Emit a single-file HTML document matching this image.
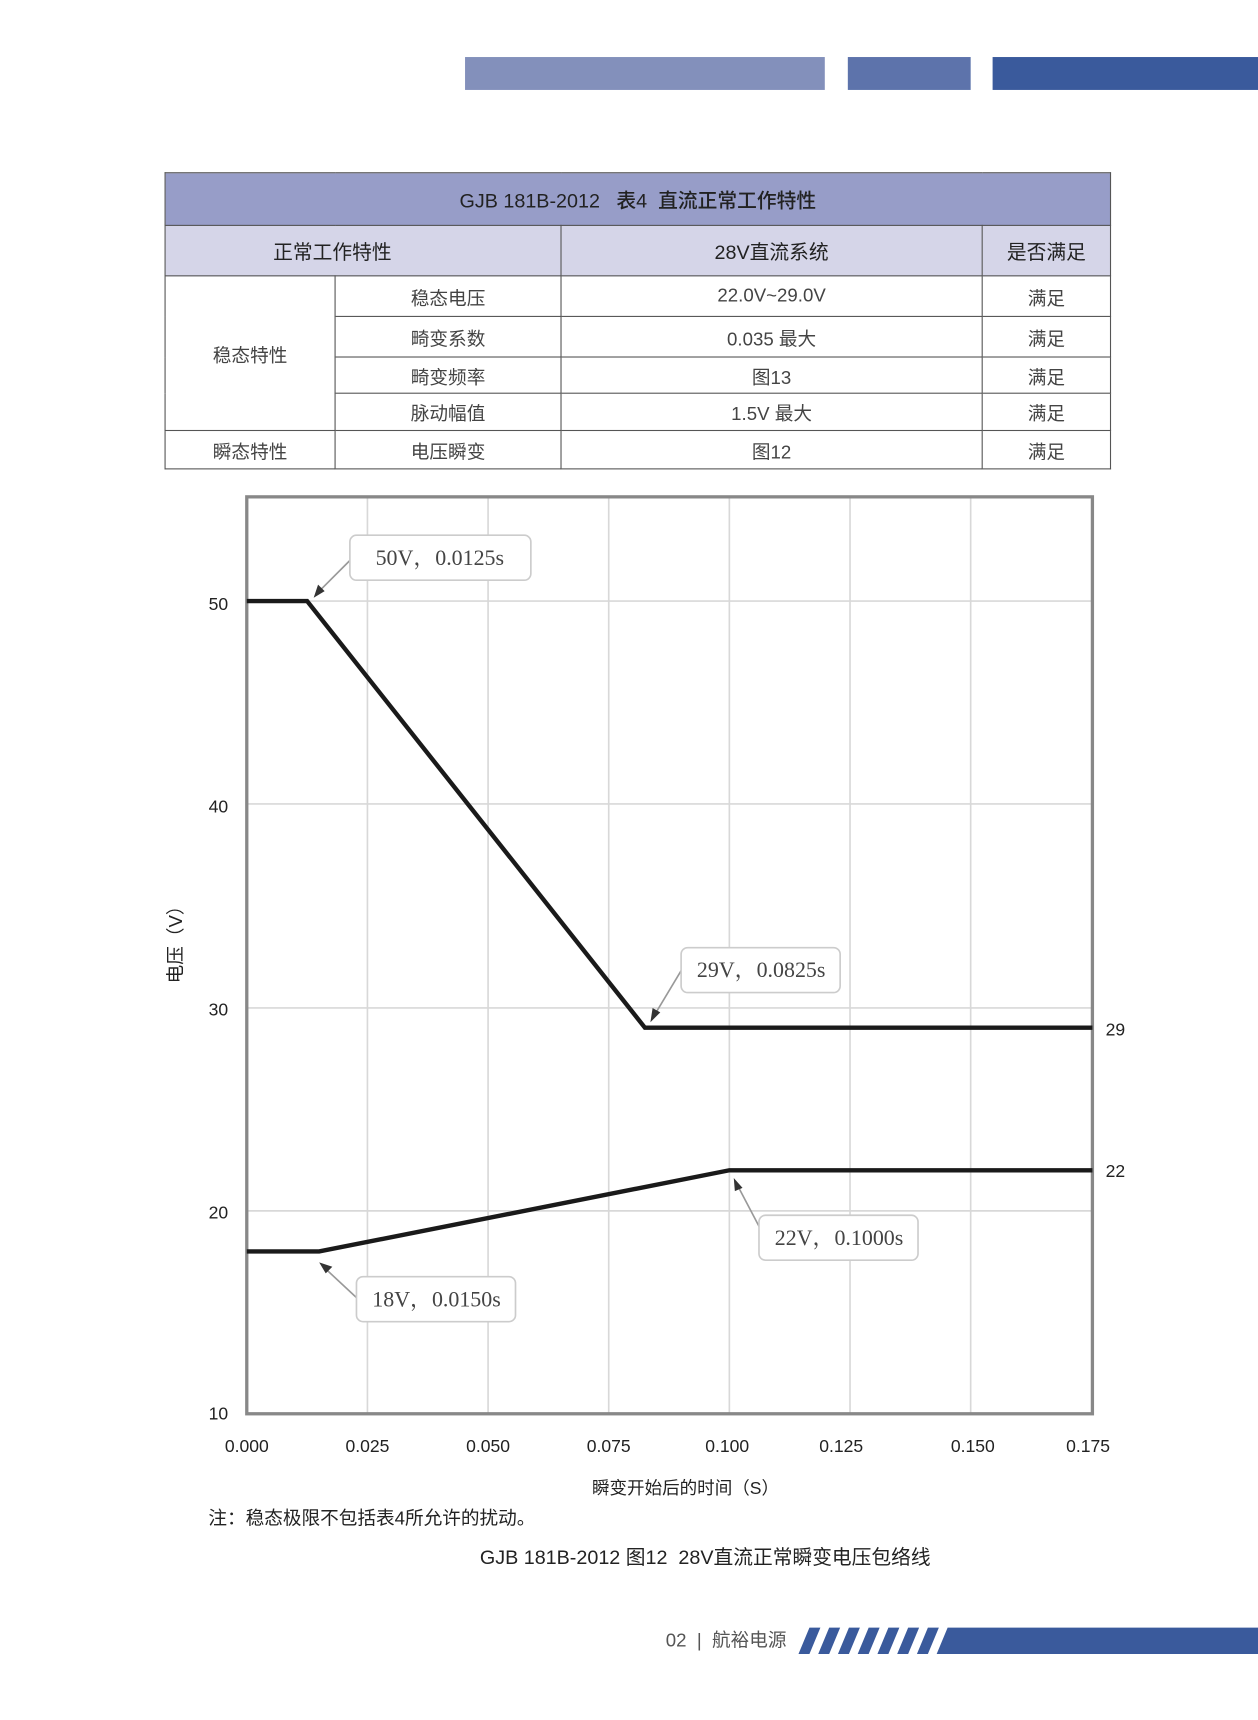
<!DOCTYPE html>
<html><head><meta charset="utf-8"><style>
body{margin:0;background:#fff;width:1258px;height:1719px;overflow:hidden}
#w{position:absolute;left:0;top:0;width:1147px;height:1568px;transform:scale(1.0968);transform-origin:0 0;font-family:"Liberation Sans","Noto Sans CJK SC",sans-serif;color:#333}
.a{position:absolute}
table{position:absolute;left:150px;top:157px;width:863px;border-collapse:collapse;font-size:17px;color:#444}
td{border:1px solid #555;text-align:center;padding:0}
</style></head><body><div id="w">
<div class="a" style="left:424px;top:52px;width:328px;height:30px;background:#8390bb"></div>
<div class="a" style="left:773px;top:52px;width:112px;height:30px;background:#5d73ab"></div>
<div class="a" style="left:905px;top:52px;width:242px;height:30px;background:#3a5a9c"></div>
<table>
<tr style="height:48px;background:#979dc8"><td colspan="4" style="font-size:18px;color:#222;font-weight:500">GJB 181B-2012 &nbsp; 表4 &nbsp;直流正常工作特性</td></tr>
<tr style="height:46px;background:#d5d5e8;font-size:18px;color:#222"><td colspan="2" style="width:359px;padding-right:56px;box-sizing:border-box">正常工作特性</td><td style="width:383px">28V直流系统</td><td>是否满足</td></tr>
<tr style="height:37px"><td rowspan="4" style="width:154px">稳态特性</td><td style="width:205px">稳态电压</td><td>22.0V~29.0V</td><td>满足</td></tr>
<tr style="height:37px"><td>畸变系数</td><td>0.035 最大</td><td>满足</td></tr>
<tr style="height:33px"><td>畸变频率</td><td>图13</td><td>满足</td></tr>
<tr style="height:34px"><td>脉动幅值</td><td>1.5V 最大</td><td>满足</td></tr>
<tr style="height:35px"><td>瞬态特性</td><td>电压瞬变</td><td>图12</td><td>满足</td></tr>
</table>
<svg class="a" style="left:0;top:0" width="1147" height="1568">
<g stroke="#d8d8d8" stroke-width="1.5">
<line x1="335" y1="453" x2="335" y2="1289"/><line x1="445" y1="453" x2="445" y2="1289"/><line x1="555" y1="453" x2="555" y2="1289"/><line x1="665" y1="453" x2="665" y2="1289"/><line x1="775" y1="453" x2="775" y2="1289"/><line x1="885" y1="453" x2="885" y2="1289"/>
<line x1="225" y1="548" x2="996" y2="548"/><line x1="225" y1="733" x2="996" y2="733"/><line x1="225" y1="919" x2="996" y2="919"/><line x1="225" y1="1104" x2="996" y2="1104"/>
</g>
<rect x="225" y="453" width="771" height="836" fill="none" stroke="#888" stroke-width="3"/>
<g fill="none" stroke="#1a1a1a" stroke-width="4">
<polyline points="225,548 280,548 588,937 996,937"/>
<polyline points="225,1141 291,1141 665,1067 996,1067"/>
</g>
<g font-size="16" fill="#222" text-anchor="end">
<text x="208" y="556">50</text><text x="208" y="741">40</text><text x="208" y="926">30</text><text x="208" y="1111">20</text><text x="208" y="1294">10</text>
</g>
<g font-size="16" fill="#222"><text x="1008" y="944">29</text><text x="1008" y="1073">22</text></g>
<g font-size="16" fill="#222" text-anchor="middle">
<text x="225" y="1324">0.000</text><text x="335" y="1324">0.025</text><text x="445" y="1324">0.050</text><text x="555" y="1324">0.075</text><text x="663" y="1324">0.100</text><text x="767" y="1324">0.125</text><text x="887" y="1324">0.150</text><text x="992" y="1324">0.175</text>
</g>
<text x="625" y="1362" font-size="16" fill="#222" text-anchor="middle">瞬变开始后的时间（S）</text>
<text transform="translate(166,857) rotate(-90)" font-size="17" fill="#222" text-anchor="middle">电压（V）</text>
<g stroke="#999" stroke-width="1.5" fill="#333">
<line x1="320" y1="510" x2="290" y2="540"/><polygon points="286,545 290,533 296,539" stroke="none"/>
<line x1="621" y1="885" x2="597" y2="925"/><polygon points="593,932 595,919 602,923" stroke="none"/>
<line x1="692" y1="1118" x2="672" y2="1080"/><polygon points="669,1074 677,1083 670,1086" stroke="none"/>
<line x1="326" y1="1184" x2="297" y2="1157"/><polygon points="291,1151 303,1155 297,1161" stroke="none"/>
</g>
<g fill="#fff" stroke="#ccc" stroke-width="1.5">
<rect x="319" y="488" width="165" height="41" rx="6"/><rect x="621" y="864" width="145" height="41" rx="6"/><rect x="692" y="1108" width="145" height="41" rx="6"/><rect x="325" y="1164" width="145" height="41" rx="6"/>
</g>
<g font-family="Liberation Serif,Noto Serif CJK SC,serif" font-size="20" fill="#444" text-anchor="middle">
<text x="401" y="515">50V，0.0125s</text><text x="694" y="891">29V，0.0825s</text><text x="765" y="1135">22V，0.1000s</text><text x="398" y="1191">18V，0.0150s</text>
</g>
<text x="190" y="1390" font-size="17" fill="#222">注：稳态极限不包括表4所允许的扰动。</text>
<text x="643" y="1426" font-size="18" fill="#222" text-anchor="middle">GJB 181B-2012 图12 &nbsp;28V直流正常瞬变电压包络线</text>
<text x="607" y="1501" font-size="17" fill="#555">02 &nbsp;|&nbsp; 航裕电源</text>
<g fill="#3a5a9c">
<polygon points="738,1484 748,1484 738,1508 728,1508"/><polygon points="756,1484 766,1484 756,1508 746,1508"/><polygon points="774,1484 784,1484 774,1508 764,1508"/><polygon points="792,1484 802,1484 792,1508 782,1508"/><polygon points="810,1484 820,1484 810,1508 800,1508"/><polygon points="828,1484 838,1484 828,1508 818,1508"/><polygon points="846,1484 856,1484 846,1508 836,1508"/>
<polygon points="864,1484 1147,1484 1147,1508 854,1508"/>
</g>
</svg>
</div></body></html>
